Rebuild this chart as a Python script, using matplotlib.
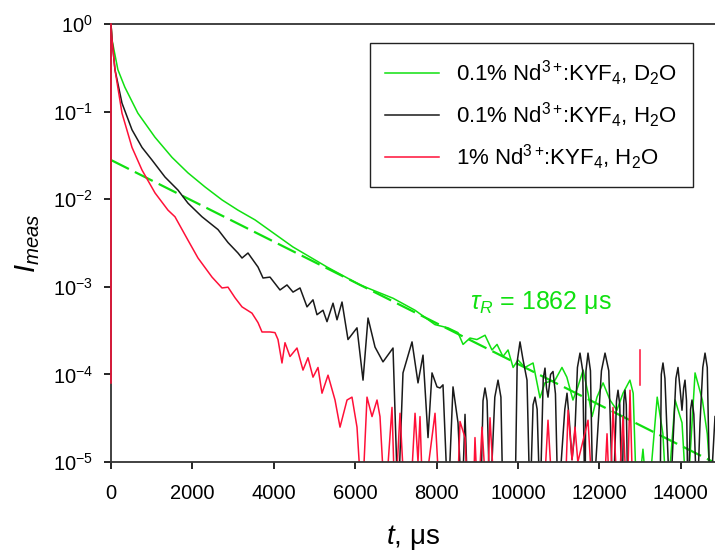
import matplotlib
matplotlib.use("Agg")
import matplotlib.pyplot as plt

plt.rcParams['font.family'] = ['Liberation Sans', 'DejaVu Sans']
plt.rcParams['mathtext.fontset'] = 'custom'
plt.rcParams['mathtext.rm'] = 'Liberation Sans'
plt.rcParams['mathtext.it'] = 'Liberation Sans:italic'
plt.rcParams['mathtext.bf'] = 'Liberation Sans:bold'

# 0.1% Nd3+:KYF4 in D2O (green)
t_d2o = [0, 25, 170, 340, 660, 1080, 1500, 1890, 2310, 2730, 3120, 3540, 4470,
         5310, 6120, 6930, 7470, 7960, 8280, 8525, 8650, 8820, 8990, 9190, 9360,
         9485, 9630, 9755, 9880, 10000, 10170, 10370, 10540, 10660, 10910, 11080,
         11200, 11350, 11470, 11600, 11720, 11820, 11940, 12090, 12260, 12430,
         12580, 12750, 12830, 12920, 13070, 13190, 13420, 13560, 13660, 13860,
         14030, 14150, 14350, 14530, 14650, 14770]
I_d2o = [1.0, 0.66, 0.30, 0.19, 0.096, 0.051, 0.030, 0.020, 0.0138, 0.0098,
         0.0075, 0.0058, 2.85e-3, 1.68e-3, 1.05e-3, 7.4e-4, 5.4e-4, 3.7e-4,
         3.4e-4, 3.0e-4, 2.2e-4, 2.6e-4, 2.5e-4, 2.8e-4, 1.9e-4, 2.2e-4, 1.6e-4,
         1.9e-4, 1.2e-4, 1.46e-4, 1.2e-4, 1.35e-4, 5.4e-5, 8.0e-5, 8.6e-5, 1.2e-4,
         9.3e-5, 5.1e-5, 7.2e-5, 1.12e-4, 6.1e-5, 3.3e-5, 5.5e-5, 8.0e-5, 5.1e-5,
         3.9e-5, 6.1e-5, 8.6e-5, 6.1e-5, 3e-6, 1.4e-5, 3e-6, 5.5e-5, 2.1e-5, 3e-6,
         5.1e-5, 2.8e-5, 3e-6, 1.04e-4, 5.1e-5, 2.1e-5, 3e-6]

# single-exponential fit for D2O sample (tau_R = 1862 us)
t_fit = [0, 14800]
I_fit = [0.028, 1.0e-5]

# 0.1% Nd3+:KYF4 in H2O (black)
t_h2o = [0, 25, 98, 270, 516, 762, 1007, 1327, 1646, 1892, 2236, 2629, 2875,
         3120, 3219, 3366, 3612, 3735, 3907, 4152, 4324, 4472, 4644, 4816, 4963,
         5061, 5209, 5307, 5455, 5553, 5676, 5823, 6044, 6192, 6315, 6487, 6683,
         6929, 7052, 7174, 7396, 7543, 7666, 7789, 7887, 8010, 8084, 8157, 8280,
         8403, 8526, 8624, 8698, 8771,
         9080, 9140, 9189, 9240, 9312, 9430, 9509, 9580, 9631, 9926, 9980, 10049,
         10120, 10221, 10295, 10370, 10418, 10470, 10541, 10620, 10663, 10700,
         10737, 10800, 10860, 10920, 10983, 11150, 11204, 11260, 11327, 11400,
         11460, 11523, 11590, 11646, 11670, 11720, 11780, 11843, 12050, 12138,
         12230, 12334, 12420, 12457, 12500, 12555, 12600, 12629, 12660, 12703,
         13489, 13520, 13562, 13610, 13734, 13880, 13931, 13980, 14029, 14070,
         14103, 14140, 14177, 14240, 14275, 14320, 14398, 14472, 14540, 14595,
         14650, 14717, 14840]
I_h2o = [1.0, 0.66, 0.30, 0.125, 0.062, 0.039, 0.028, 0.0179, 0.0127, 9.0e-3,
         6.3e-3, 4.5e-3, 3.2e-3, 2.43e-3, 2.13e-3, 2.43e-3, 1.68e-3, 1.26e-3,
         1.29e-3, 9.2e-4, 1.05e-3, 8.7e-4, 9.7e-4, 5.9e-4, 7.1e-4, 4.8e-4, 5.4e-4,
         4.0e-4, 6.5e-4, 4.2e-4, 6.7e-4, 2.5e-4, 3.4e-4, 8.6e-5, 4.4e-4, 2.05e-4,
         1.39e-4, 2.0e-4, 3e-6, 1.04e-4, 2.35e-4, 8.0e-5, 1.66e-4, 1.9e-5, 1.04e-4,
         7.2e-5, 7.0e-5, 7.6e-5, 3e-6, 7.2e-5, 2.8e-5, 3e-6, 3.5e-5, 3e-6,
         3e-6, 5.0e-5, 7.0e-5, 5.0e-5, 3e-6, 5.5e-5, 8.6e-5, 5.5e-5, 3e-6, 3e-6,
         1.4e-4, 2.35e-4, 1.5e-4, 8.6e-5, 3e-6, 4.5e-5, 5.5e-5, 4.0e-5, 3e-6,
         9e-5, 1.18e-4, 7e-5, 5.5e-5, 1.0e-4, 1.08e-4, 6e-5, 3e-6, 4e-5, 6.1e-5,
         3e-5, 1.06e-5, 2.3e-5, 1.2e-4, 1.75e-4, 1.1e-4, 3e-6, 1.1e-4, 1.75e-4,
         1.1e-4, 3e-6, 1.1e-4, 1.75e-4, 1.1e-4, 3e-6, 5e-5, 6.6e-5, 4.5e-5, 3e-6,
         5e-5, 6.6e-5, 4.5e-5, 3e-6, 3e-6, 1.0e-4, 1.35e-4, 9e-5, 3e-6, 9e-5,
         1.2e-4, 7e-5, 3.9e-5, 7e-5, 8.6e-5, 5e-5, 3e-6, 4e-5, 5.1e-5, 3.5e-5,
         3e-6, 2.8e-5, 1.2e-4, 1.75e-4, 1.2e-4, 3e-6, 3.3e-5]

# 1% Nd3+:KYF4 in H2O (red); first point is the rise at t = 0
t_1pc = [0, 0, 25, 98, 270, 516, 762, 1081, 1400, 1572, 1892, 2138, 2482, 2727,
         2875, 3047, 3219, 3464, 3612, 3710, 3907, 4029, 4103, 4201, 4275, 4398,
         4570, 4717, 4840, 4963, 5086, 5184, 5332, 5504, 5627, 5799, 5921, 6044,
         6167, 6290, 6413, 6536, 6609, 6732, 6904, 6978, 7101, 7224, 7346, 7470,
         7543, 7592, 7666, 7961, 8084, 8501, 8575, 8698, 8771, 8894, 8943, 9017,
         9115, 9238, 9312, 9435, 10620, 10737, 10860, 11150, 11230, 11327, 11400,
         11470, 11720, 11843, 12100, 12187, 12260, 12334, 12457, 12580, 12678,
         12752, 12826]
I_1pc = [8e-5, 1.0, 0.66, 0.30, 0.096, 0.039, 0.0215, 0.0118, 7.5e-3, 6.3e-3,
         3.4e-3, 2.13e-3, 1.29e-3, 9.7e-4, 9.9e-4, 7.5e-4, 5.9e-4, 5.0e-4, 3.9e-4,
         3.05e-4, 3.05e-4, 3.0e-4, 2.5e-4, 1.35e-4, 2.3e-4, 1.6e-4, 2.0e-4,
         1.12e-4, 1.55e-4, 9.3e-5, 1.2e-4, 6.1e-5, 9.8e-5, 5.1e-5, 2.5e-5, 5.1e-5,
         5.5e-5, 2.5e-5, 3e-6, 5.5e-5, 3.3e-5, 5.1e-5, 3.3e-5, 3e-6, 4.2e-5, 3e-6,
         3.6e-5, 3e-6, 3e-6, 3.6e-5, 1e-5, 3.3e-5, 3e-6, 3.6e-5, 3e-6, 3e-6,
         2.9e-5, 1.9e-5, 3e-6, 3e-6, 1.9e-5, 3e-6, 2.5e-5, 3e-6, 3.2e-5, 3e-6,
         3e-6, 3.0e-5, 3e-6, 3e-6, 3.9e-5, 1.06e-5, 2.5e-5, 1e-5, 3.0e-5, 3e-6,
         3e-6, 2.1e-5, 3e-6, 4.2e-5, 3e-6, 3.3e-5, 3e-6, 6.6e-5, 3e-6]

# small red mark near t = 13000
t_mark = [13000, 13000]
I_mark = [7.6e-5, 1.9e-4]

green = '#10e010'
red = '#ff1038'
black = '#1a1a1a'

fig = plt.figure(figsize=(7.15, 5.51), dpi=100)
ax = fig.add_axes([111 / 715, 1 - 462 / 551, 1 - 111 / 715, 438 / 551])

ax.plot(t_d2o, I_d2o, color=green, lw=1.1, label=r'0.1% Nd$^{3+}\!$:KYF$_4$, D$_2$O')
ax.plot(t_fit, I_fit, color=green, lw=1.6, dashes=(9, 3))
ax.plot(t_h2o, I_h2o, color=black, lw=1.1, label=r'0.1% Nd$^{3+}\!$:KYF$_4$, H$_2$O')
ax.plot(t_1pc[1:], I_1pc[1:], color=red, lw=1.1, label=r'1% Nd$^{3+}\!$:KYF$_4$, H$_2$O')
ax.plot(t_1pc[:2], I_1pc[:2], color=red, lw=1.1, clip_on=False, zorder=5)
ax.plot(t_mark, I_mark, color=red, lw=1.1)

ax.set_yscale('log')
ax.set_ylim(1e-5, 1)
ax.set_xlim(0, 14840)
ax.set_xticks(range(0, 14001, 2000))
ax.set_yticks([1, 1e-1, 1e-2, 1e-3, 1e-4, 1e-5])
ax.minorticks_off()

for s in ['top', 'left', 'bottom']:
    ax.spines[s].set_color('#333333')
    ax.spines[s].set_linewidth(1.3)
ax.spines['right'].set_visible(False)
ax.tick_params(direction='out', length=5, width=1.2, labelsize=14.5)
ax.tick_params(axis='x', pad=11)
ax.tick_params(axis='y', pad=8)

ax.text(8820, 6.7e-4, r'$\tau_R$ = 1862 $\mathrm{\mu}$s', color=green,
        fontsize=18, va='center', ha='left')

ax.set_xlabel(r'$t$, $\mathrm{\mu}$s', fontsize=20, labelpad=14)
ax.set_ylabel(r'$I_{meas}$', fontsize=21, labelpad=8)

leg = ax.legend(loc='upper right', bbox_to_anchor=(0.9636, 0.9566),
                borderaxespad=0, fontsize=16, handlelength=2.4,
                labelspacing=0.55, fancybox=False, framealpha=1,
                edgecolor='#222222', borderpad=0.7)
leg.get_frame().set_linewidth(1.0)

fig.savefig('out.png', dpi=100)
